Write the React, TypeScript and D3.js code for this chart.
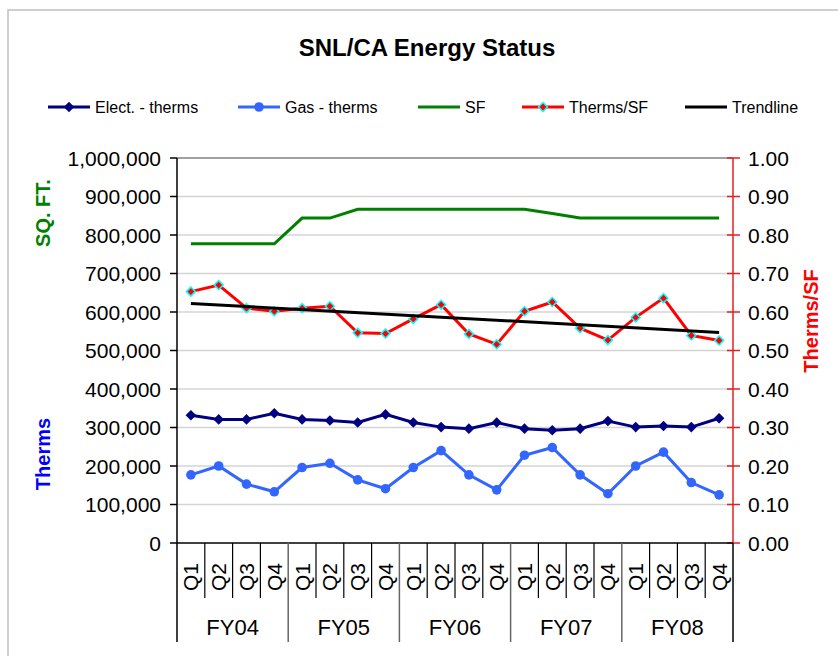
import { useEffect, useRef } from "react"
import * as d3 from "d3"

const fiscalYears = ["FY04", "FY05", "FY06", "FY07", "FY08"]
const quarters = ["Q1", "Q2", "Q3", "Q4"]

const electTherms = [
    332000, 321000, 321000, 337000, 321000, 318000, 313000, 334000, 313000, 301000,
    297000, 313000, 297000, 293000, 297000, 317000, 301000, 304000, 301000, 324000
]
const gasTherms = [
    177000, 200000, 153000, 133000, 196000, 207000, 164000, 141000, 196000, 240000,
    177000, 138000, 228000, 248000, 177000, 128000, 200000, 236000, 157000, 125000
]
const squareFeet = [
    777000, 777000, 777000, 777000, 844000, 844000, 867000, 867000, 867000, 867000,
    867000, 867000, 867000, 856000, 844000, 844000, 844000, 844000, 844000, 844000
]
const thermsPerSF = [
    0.653, 0.670, 0.610, 0.602, 0.610, 0.615, 0.546, 0.544, 0.582, 0.619,
    0.543, 0.516, 0.602, 0.626, 0.558, 0.527, 0.586, 0.636, 0.539, 0.526
]
// trendline value at first and last quarter
const trendline = [0.622, 0.547]

const leftTicks = [0, 100000, 200000, 300000, 400000, 500000, 600000, 700000, 800000, 900000, 1000000]
const rightTicks = [0, 0.1, 0.2, 0.3, 0.4, 0.5, 0.6, 0.7, 0.8, 0.9, 1.0]

const legendItems = [
    { label: "Elect. - therms", color: "#000080", marker: "diamond", x: 48 },
    { label: "Gas - therms", color: "#3366ff", marker: "circle", x: 238 },
    { label: "SF", color: "#008000", marker: "none", x: 418 },
    { label: "Therms/SF", color: "#ff0000", marker: "cyanDiamond", x: 522 },
    { label: "Trendline", color: "#000000", marker: "none", x: 685 }
]

const FONT = "Arial, 'Liberation Sans', sans-serif"
const W = 838
const H = 656
const LEFT = 177
const RIGHT = 733
const TOP = 158
const BOTTOM = 543

export default function App() {
    const svgRef = useRef<SVGSVGElement>(null)

    useEffect(() => {
        const svg = d3.select(svgRef.current)
        svg.selectAll("*").remove()

        const categories = fiscalYears.flatMap(fy => quarters.map(q => `${fy}-${q}`))
        const x = d3.scaleBand().domain(categories).range([LEFT, RIGHT])
        const cx = (i: number) => (x(categories[i]) as number) + x.bandwidth() / 2
        const yL = d3.scaleLinear().domain([0, 1000000]).range([BOTTOM, TOP])
        const yR = d3.scaleLinear().domain([0, 1]).range([BOTTOM, TOP])

        // outer frame
        svg.append("rect")
            .attr("x", 8).attr("y", 10)
            .attr("width", W + 20).attr("height", H + 20)
            .attr("fill", "white").attr("stroke", "#c0c0c0").attr("stroke-width", 1.5)

        // title
        svg.append("text")
            .attr("x", 427).attr("y", 56)
            .attr("text-anchor", "middle")
            .attr("font-family", FONT).attr("font-size", 24).attr("font-weight", "bold")
            .text("SNL/CA Energy Status")

        // gridlines
        svg.append("g").selectAll("line")
            .data(leftTicks.slice(1))
            .join("line")
            .attr("x1", LEFT).attr("x2", RIGHT)
            .attr("y1", d => yL(d)).attr("y2", d => yL(d))
            .attr("stroke", d => d === 1000000 ? "#808080" : "#d4d4d4")
            .attr("stroke-width", 1.5)

        // left axis
        const gl = svg.append("g")
        gl.append("line")
            .attr("x1", LEFT).attr("x2", LEFT).attr("y1", TOP).attr("y2", BOTTOM)
            .attr("stroke", "black").attr("stroke-width", 1.5)
        gl.selectAll("line.tick").data(leftTicks).join("line")
            .attr("class", "tick")
            .attr("x1", LEFT - 7).attr("x2", LEFT)
            .attr("y1", d => yL(d)).attr("y2", d => yL(d))
            .attr("stroke", "black").attr("stroke-width", 1.5)
        gl.selectAll("text").data(leftTicks).join("text")
            .attr("x", 161).attr("y", d => yL(d)).attr("dy", "0.36em")
            .attr("text-anchor", "end")
            .attr("font-family", FONT).attr("font-size", 21)
            .text(d => d3.format(",")(d))

        // right axis
        const gr = svg.append("g")
        gr.append("line")
            .attr("x1", RIGHT).attr("x2", RIGHT).attr("y1", TOP).attr("y2", BOTTOM)
            .attr("stroke", "#e02020").attr("stroke-width", 1.5)
        gr.selectAll("line.tick").data(rightTicks).join("line")
            .attr("class", "tick")
            .attr("x1", RIGHT - 6).attr("x2", RIGHT + 7)
            .attr("y1", d => yR(d)).attr("y2", d => yR(d))
            .attr("stroke", "#e02020").attr("stroke-width", 1.5)
        gr.selectAll("text").data(rightTicks).join("text")
            .attr("x", 748).attr("y", d => yR(d)).attr("dy", "0.36em")
            .attr("text-anchor", "start")
            .attr("font-family", FONT).attr("font-size", 21)
            .text(d => d3.format(".2f")(d))

        // axis titles
        const axisTitle = (tx: number, ty: number, label: string, color: string) =>
            svg.append("text")
                .attr("transform", `translate(${tx},${ty}) rotate(-90)`)
                .attr("text-anchor", "middle").attr("dy", "0.36em")
                .attr("font-family", FONT).attr("font-size", 20).attr("font-weight", "bold")
                .attr("fill", color)
                .text(label)
        axisTitle(43, 213, "SQ. FT.", "#008000")
        axisTitle(43, 454, "Therms", "#0000ff")
        axisTitle(811, 321, "Therms/SF", "#ff0000")

        // category axis
        const gx = svg.append("g")
        gx.append("line")
            .attr("x1", LEFT).attr("x2", RIGHT).attr("y1", BOTTOM).attr("y2", BOTTOM)
            .attr("stroke", "black").attr("stroke-width", 1.5)
        const bounds = d3.range(categories.length + 1)
        gx.selectAll("line.sep").data(bounds).join("line")
            .attr("class", "sep")
            .attr("x1", i => LEFT + i * x.step()).attr("x2", i => LEFT + i * x.step())
            .attr("y1", BOTTOM).attr("y2", i => i % 4 === 0 ? 642 : 598)
            .attr("stroke", i => i % 4 === 0 && i > 0 && i < categories.length ? "#666" : "black")
            .attr("stroke-width", i => i % 4 === 0 ? 1.5 : 1.2)
        gx.selectAll("text.q").data(categories).join("text")
            .attr("class", "q")
            .attr("transform", (d, i) => `translate(${cx(i)},577) rotate(-90)`)
            .attr("text-anchor", "middle").attr("dy", "0.36em")
            .attr("font-family", FONT).attr("font-size", 21)
            .text(d => d.split("-")[1])
        gx.selectAll("text.fy").data(fiscalYears).join("text")
            .attr("class", "fy")
            .attr("x", (d, i) => (cx(i * 4) + cx(i * 4 + 3)) / 2)
            .attr("y", 635)
            .attr("text-anchor", "middle")
            .attr("font-family", FONT).attr("font-size", 22)
            .text(d => d)

        const lineL = d3.line<number>().x((d, i) => cx(i)).y(d => yL(d))
        const lineR = d3.line<number>().x((d, i) => cx(i)).y(d => yR(d))

        // square turned 45 degrees, like the spreadsheet diamond
        const diamond = d3.symbol().type(d3.symbolSquare)

        // SF
        svg.append("path").datum(squareFeet)
            .attr("d", lineL).attr("fill", "none")
            .attr("stroke", "#008000").attr("stroke-width", 3)

        // Elect
        svg.append("path").datum(electTherms)
            .attr("d", lineL).attr("fill", "none")
            .attr("stroke", "#000080").attr("stroke-width", 3)
        svg.append("g").selectAll("path").data(electTherms).join("path")
            .attr("transform", (d, i) => `translate(${cx(i)},${yL(d)}) rotate(45)`)
            .attr("d", diamond.size(56)())
            .attr("fill", "#000080")

        // Gas
        svg.append("path").datum(gasTherms)
            .attr("d", lineL).attr("fill", "none")
            .attr("stroke", "#3366ff").attr("stroke-width", 3)
        svg.append("g").selectAll("circle").data(gasTherms).join("circle")
            .attr("cx", (d, i) => cx(i)).attr("cy", d => yL(d)).attr("r", 4.8)
            .attr("fill", "#3366ff")

        // Therms/SF
        svg.append("path").datum(thermsPerSF)
            .attr("d", lineR).attr("fill", "none")
            .attr("stroke", "#ff0000").attr("stroke-width", 3)
        svg.append("g").selectAll("path").data(thermsPerSF).join("path")
            .attr("transform", (d, i) => `translate(${cx(i)},${yR(d)}) rotate(45)`)
            .attr("d", diamond.size(40)())
            .attr("fill", "#ff0000").attr("stroke", "#00ffff").attr("stroke-width", 1.5)

        // Trendline
        svg.append("line")
            .attr("x1", cx(0)).attr("y1", yR(trendline[0]))
            .attr("x2", cx(categories.length - 1)).attr("y2", yR(trendline[1]))
            .attr("stroke", "black").attr("stroke-width", 3)

        // legend
        const lg = svg.append("g").attr("transform", "translate(0,107)")
        legendItems.forEach(item => {
            const g = lg.append("g").attr("transform", `translate(${item.x},0)`)
            g.append("line").attr("x1", 0).attr("x2", 42).attr("y1", 0).attr("y2", 0)
                .attr("stroke", item.color).attr("stroke-width", 3)
            if (item.marker === "diamond") {
                g.append("path").attr("transform", "translate(21,0) rotate(45)")
                    .attr("d", diamond.size(56)()).attr("fill", item.color)
            } else if (item.marker === "circle") {
                g.append("circle").attr("cx", 21).attr("r", 4.8).attr("fill", item.color)
            } else if (item.marker === "cyanDiamond") {
                g.append("path").attr("transform", "translate(21,0) rotate(45)")
                    .attr("d", diamond.size(40)()).attr("fill", item.color)
                    .attr("stroke", "#00ffff").attr("stroke-width", 1.5)
            }
            g.append("text").attr("x", 47).attr("y", 0).attr("dy", "0.36em")
                .attr("font-family", FONT).attr("font-size", 16)
                .text(item.label)
        })
    }, [])

    return (
        <svg ref={svgRef} width={W} height={H}
            style={{ position: "absolute", left: 0, top: 0, background: "white" }} />
    )
}
